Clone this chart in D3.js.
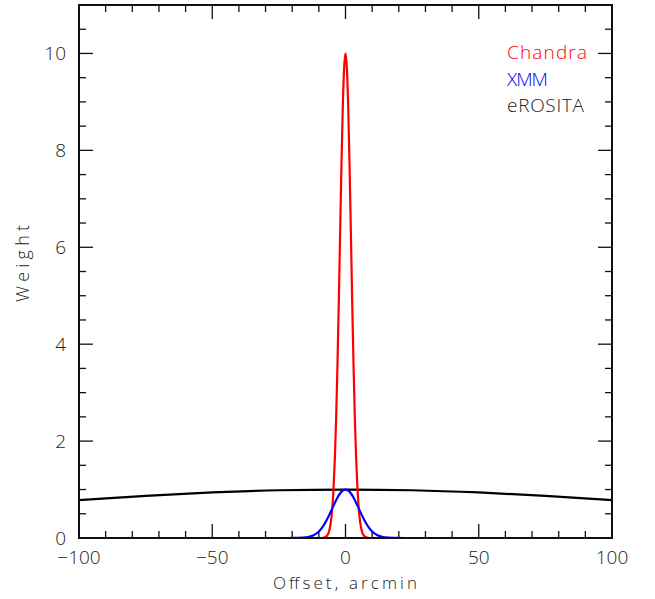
<!DOCTYPE html>
<html>
<head>
<meta charset="utf-8">
<script src="https://cdn.jsdelivr.net/npm/d3@7"></script>
<style>
  body { margin: 0; background: #fff; }
  text { font-family: "Open Sans", "DejaVu Sans", sans-serif; font-weight: 300; fill: #222; }
</style>
</head>
<body>
<svg id="chart" width="655" height="599"></svg>
<script>
// values
const chandraX = [-12, -9, -8, -7, -6, -5.5, -5, -4.5, -4, -3.5, -3, -2.5, -2, -1.5, -1, -0.5, 0,
                  0.5, 1, 1.5, 2, 2.5, 3, 3.5, 4, 4.5, 5, 5.5, 6, 7, 8, 9, 12];
const chandraY = [0, 0, 0.01, 0.04, 0.17, 0.33, 0.59, 1.01, 1.63, 2.49, 3.6, 4.92, 6.35, 7.75, 8.93, 9.72, 10,
                  9.72, 8.93, 7.75, 6.35, 4.92, 3.6, 2.49, 1.63, 1.01, 0.59, 0.33, 0.17, 0.04, 0.01, 0, 0];
const xmmX = [-100, -22, -18, -16, -14, -12, -10, -9, -8, -7, -6, -5, -4, -3, -2, -1, 0,
              1, 2, 3, 4, 5, 6, 7, 8, 9, 10, 12, 14, 16, 18, 22, 100];
const xmmY = [0, 0, 0.002, 0.006, 0.02, 0.056, 0.135, 0.198, 0.278, 0.375, 0.487, 0.607, 0.726, 0.835, 0.923, 0.98, 1,
              0.98, 0.923, 0.835, 0.726, 0.607, 0.487, 0.375, 0.278, 0.198, 0.135, 0.056, 0.02, 0.006, 0.002, 0, 0];
const erositaX = [-100, -75, -50, -25, 0, 25, 50, 75, 100];
const erositaY = [0.78, 0.87, 0.94, 0.985, 1, 0.985, 0.94, 0.87, 0.78];

const seriesNames = ['Chandra', 'XMM', 'eROSITA'];
const seriesColors = ['#ff0000', '#0000ff', '#000000'];
const xTicks = [-100, -50, 0, 50, 100];
const yTicks = [0, 2, 4, 6, 8, 10];

const svg = d3.select('#chart');
const margin = { top: 5, right: 43, bottom: 61, left: 79 };
const width = 655 - margin.left - margin.right;
const height = 599 - margin.top - margin.bottom;

const x = d3.scaleLinear().domain([-100, 100]).range([0, width]);
const y = d3.scaleLinear().domain([0, 11]).range([height, 0]);

const chart = svg.append('g').attr('transform', `translate(${margin.left},${margin.top})`);

// ticks on all four sides, pointing inward
const xMinor = d3.range(-100, 101, 10);
const yMinor = d3.range(0, 11.01, 0.5);

const ticks = chart.append('g').attr('stroke', '#111').attr('stroke-width', 1.3);
xMinor.forEach(v => {
  const len = v % 50 === 0 ? 14 : 7;
  ticks.append('line').attr('x1', x(v)).attr('x2', x(v)).attr('y1', height).attr('y2', height - len);
  ticks.append('line').attr('x1', x(v)).attr('x2', x(v)).attr('y1', 0).attr('y2', len);
});
yMinor.forEach(v => {
  const len = Math.abs(v % 2) < 1e-6 ? 14 : 7;
  ticks.append('line').attr('x1', 0).attr('x2', len).attr('y1', y(v)).attr('y2', y(v));
  ticks.append('line').attr('x1', width).attr('x2', width - len).attr('y1', y(v)).attr('y2', y(v));
});

// tick labels
chart.selectAll('text.xt').data(xTicks).enter().append('text')
  .attr('class', 'xt')
  .attr('x', d => x(d))
  .attr('y', height + 26)
  .attr('text-anchor', 'middle')
  .style('font-size', '19px')
  .text(d => d < 0 ? '\u2212' + Math.abs(d) : d);

chart.selectAll('text.yt').data(yTicks).enter().append('text')
  .attr('class', 'yt')
  .attr('x', -13)
  .attr('y', d => y(d) + 7)
  .attr('text-anchor', 'end')
  .style('font-size', '19px')
  .text(d => d);

// curves
const line = d3.line().x(d => x(d[0])).y(d => y(d[1])).curve(d3.curveMonotoneX);
const series = [
  d3.zip(chandraX, chandraY),
  d3.zip(xmmX, xmmY),
  d3.zip(erositaX, erositaY)
];
const drawOrder = [2, 0, 1];
chart.append('defs').append('clipPath').attr('id', 'clip')
  .append('rect').attr('width', width).attr('height', height);
drawOrder.forEach(i => {
  chart.append('path')
    .datum(series[i])
    .attr('clip-path', 'url(#clip)')
    .attr('fill', 'none')
    .attr('stroke', seriesColors[i])
    .attr('stroke-width', 2.2)
    .attr('d', line);
});

// frame
chart.append('rect')
  .attr('width', width).attr('height', height)
  .attr('fill', 'none').attr('stroke', '#111').attr('stroke-width', 2);

// legend
const legendLen = [80, 41, 77];
seriesNames.forEach((name, i) => {
  chart.append('text')
    .attr('x', 428)
    .attr('y', 54 + i * 26.5)
    .attr('textLength', legendLen[i])
    .attr('lengthAdjust', 'spacing')
    .style('font-size', '19px')
    .style('fill', seriesColors[i] === '#000000' ? '#222' : seriesColors[i])
    .text(name);
});

// axis titles
svg.append('text')
  .attr('x', 273)
  .attr('y', 589)
  .attr('textLength', 144)
  .attr('lengthAdjust', 'spacing')
  .style('font-size', '17px')
  .text('Offset, arcmin');

svg.append('text')
  .attr('transform', 'translate(29,302) rotate(-90)')
  .attr('textLength', 77)
  .attr('lengthAdjust', 'spacing')
  .style('font-size', '18px')
  .text('Weight');
</script>
</body>
</html>
